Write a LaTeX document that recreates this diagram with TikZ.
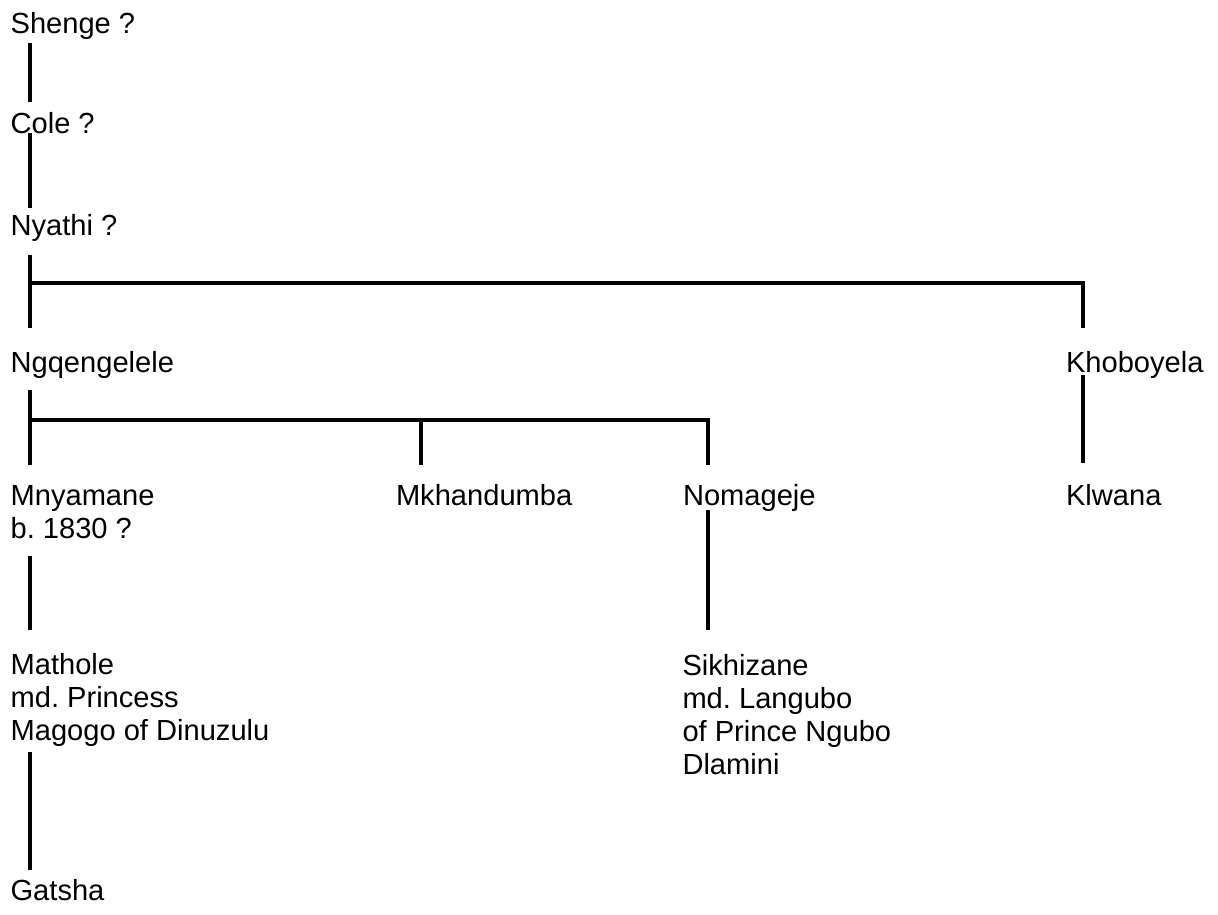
\documentclass[tikz,border=0pt]{standalone}
\usepackage{fontspec}
\setmainfont{Liberation Sans}
\frenchspacing
\begin{document}
\begin{tikzpicture}[x=1pt,y=-1pt,
  lbl/.style={inner sep=0pt,outer sep=0pt,anchor=base west,align=left,
    font=\fontsize{29.1}{33}\selectfont},
  ln/.style={line width=3.2pt,black}]
\useasboundingbox[fill=white] (0,0) rectangle (1218,914);
% columns for connectors
\coordinate (xa) at (30,0);
\coordinate (xb) at (421,0);
\coordinate (xc) at (708,0);
\coordinate (xd) at (1083,0);
% text nodes (base = baseline of last line)
\node[lbl] (shenge) at (10.6,33) {Shenge ?};
\node[lbl] (cole) at (10.6,133) {Cole ?};
\node[lbl] (nyathi) at (10.6,235) {Nyathi ?};
\node[lbl] (ngq) at (10.6,372) {Ngqengelele};
\node[lbl] (khob) at (1066,372) {Khoboyela};
\node[lbl] (mnya) at (10.6,538) {Mnyamane\\b. 1830 ?};
\node[lbl] (mkha) at (396,505) {Mkhandumba};
\node[lbl] (noma) at (683,505) {Nomageje};
\node[lbl] (klwa) at (1066,505) {Klwana};
\node[lbl] (math) at (10.6,740) {Mathole\\md. Princess\\Magogo of Dinuzulu};
\node[lbl] (sikh) at (682.5,774) {Sikhizane\\md. Langubo\\of Prince Ngubo\\Dlamini};
\node[lbl] (gats) at (10.6,900) {Gatsha};
% bus coordinates
\coordinate (b1) at (30,283);
\coordinate (b2) at (1083,283);
\coordinate (c1) at (30,420);
\coordinate (c2) at (708,420);
\coordinate (c3) at (421,420);
% connectors
\draw[ln] ([yshift=-10pt]shenge.base -| xa) -- ([yshift=31pt]cole.base -| xa);
\draw[ln] (cole.base -| xa) -- ([yshift=27pt]nyathi.base -| xa);
\draw[ln] ([yshift=-20pt]nyathi.base -| xa) -- ([yshift=44pt]ngq.base -| xa);
\draw[ln] (b1) -- (b2) -- ([yshift=44pt]khob.base -| xd);
\draw[ln] ([yshift=-18pt]ngq.base -| xa) -- ([yshift=73pt]mnya.base -| xa);
\draw[ln] (c1) -- (c2) -- ([yshift=40pt]noma.base -| xc);
\draw[ln] (c3) -- ([yshift=40pt]mkha.base -| xb);
\draw[ln] ([yshift=-3pt]khob.base -| xd) -- ([yshift=42pt]klwa.base -| xd);
\draw[ln] ([yshift=-5pt]noma.base -| xc) -- ([yshift=144pt]sikh.base -| xc);
\draw[ln] ([yshift=-18pt]mnya.base -| xa) -- ([yshift=110pt]math.base -| xa);
\draw[ln] ([yshift=-12pt]math.base -| xa) -- ([yshift=30pt]gats.base -| xa);
\end{tikzpicture}
\end{document}
